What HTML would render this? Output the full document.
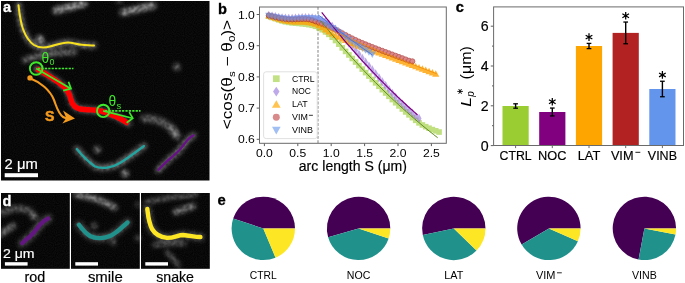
<!DOCTYPE html>
<html><head><meta charset="utf-8"><style>
html,body{margin:0;padding:0;background:#fff;}
body{width:685px;height:283px;overflow:hidden;}
svg{display:block;font-family:"Liberation Sans", sans-serif;will-change:transform;}
</style></head><body>
<svg width="685" height="283" viewBox="0 0 685 283">
<defs><filter id="nz" filterUnits="userSpaceOnUse" x="0" y="0" width="685" height="283"><feTurbulence type="fractalNoise" baseFrequency="0.9" numOctaves="1" seed="5"/><feColorMatrix type="matrix" values="0 0 0 0 1  0 0 0 0 1  0 0 0 0 1  0 0 0 0.09 -0.025"/><feComposite in2="SourceAlpha" operator="in"/></filter></defs>
<rect x="1" y="1" width="208.5" height="179.5" fill="#030303"/>
<rect x="1" y="1" width="208.5" height="179.5" fill="#000" filter="url(#nz)"/>
<defs><filter id="bl" filterUnits="userSpaceOnUse" x="0" y="0" width="685" height="283"><feGaussianBlur in="SourceGraphic" stdDeviation="2.0" result="b"/><feTurbulence type="fractalNoise" baseFrequency="0.3" numOctaves="1" seed="7" result="n"/><feColorMatrix in="n" type="matrix" values="0 0 0 0 1  0 0 0 0 1  0 0 0 0 1  0 0 0 0.9 0.3" result="n2"/><feComposite in="b" in2="n2" operator="in"/></filter><filter id="bl2" filterUnits="userSpaceOnUse" x="0" y="0" width="685" height="283"><feGaussianBlur stdDeviation="1.4"/></filter></defs>
<path d="M56,10.5 Q70,7 84,3.5" stroke="#fff" stroke-opacity="0.7" stroke-width="6.5" stroke-linecap="round" fill="none" filter="url(#bl)"/>
<path d="M123,12.5 Q138,9 153,5.5" stroke="#fff" stroke-opacity="0.65" stroke-width="6.5" stroke-linecap="round" fill="none" filter="url(#bl)"/>
<path d="M118,1.5 L121,1.5" stroke="#fff" stroke-opacity="0.5" stroke-width="3" stroke-linecap="round" fill="none" filter="url(#bl)"/>
<path d="M39.7,39.2 L40.2,39.7" stroke="#fff" stroke-opacity="0.8" stroke-width="7" stroke-linecap="round" fill="none" filter="url(#bl)"/>
<path d="M25,60 Q50,52 74,52" stroke="#fff" stroke-opacity="0.45" stroke-width="6" stroke-linecap="round" fill="none" filter="url(#bl)"/>
<path d="M176.6,66.8 L177,67" stroke="#fff" stroke-opacity="0.6" stroke-width="6" stroke-linecap="round" fill="none" filter="url(#bl)"/>
<path d="M144,118.5 Q166,118 177,136" stroke="#fff" stroke-opacity="0.42" stroke-width="7" stroke-linecap="round" fill="none" filter="url(#bl)"/>
<path d="M172,128 L176,135" stroke="#fff" stroke-opacity="0.3" stroke-width="6" stroke-linecap="round" fill="none" filter="url(#bl)"/>
<path d="M97,149.4 L97.5,149.8" stroke="#fff" stroke-opacity="0.6" stroke-width="6" stroke-linecap="round" fill="none" filter="url(#bl)"/>
<path d="M124,173 L125,173.5" stroke="#fff" stroke-opacity="0.5" stroke-width="6" stroke-linecap="round" fill="none" filter="url(#bl)"/>
<path d="M125.4,173.3 L126,174" stroke="#fff" stroke-opacity="0.5" stroke-width="5" stroke-linecap="round" fill="none" filter="url(#bl)"/>
<path d="M18.5,5.3 C19.5,14 20.5,22 23,29 C25.5,36 29,41.5 34,45 C38,47.5 44,48 50,46.5 C56,45 62,42.5 68,42.5 C73,42.5 76,44.5 82,44.8 C87,45 91,45.5 94,45.5" stroke="#fff" stroke-opacity="0.5" stroke-width="6" stroke-linecap="round" fill="none" filter="url(#bl)"/>
<path d="M36.5,68.7 C46,74 56,80 63,86 C68,90 70,95 71,100 C72.5,105 75,108 80,109 C86,110 92,109.8 97,110.2 C103,111 108,113 116,116.5 C121,119 126,122 128.5,123.5" stroke="#fff" stroke-opacity="0.5" stroke-width="6" stroke-linecap="round" fill="none" filter="url(#bl)"/>
<path d="M76.8,149 C80,153 86,160 95,166.5 C102,169 112,168 120,163 C128,158 136,152 144,146" stroke="#fff" stroke-opacity="0.5" stroke-width="6" stroke-linecap="round" fill="none" filter="url(#bl)"/>
<path d="M158.3,170 C163,165 168,160 172,157 C177,153 182,148 186.6,141 C189,138 191,136.5 193.6,135.3" stroke="#fff" stroke-opacity="0.5" stroke-width="6" stroke-linecap="round" fill="none" filter="url(#bl)"/>
<path d="M18.5,5.3 C19.5,14 20.5,22 23,29 C25.5,36 29,41.5 34,45 C38,47.5 44,48 50,46.5 C56,45 62,42.5 68,42.5 C73,42.5 76,44.5 82,44.8 C87,45 91,45.5 94,45.5" stroke="#f7e11e" stroke-width="2.0" fill="none" stroke-linecap="round"/>
<path d="M36.5,68.7 C46,74 56,80 63,86 C68,90 70,95 71,100 C72.5,105 75,108 80,109 C86,110 92,109.8 97,110.2 C103,111 108,113 116,116.5 C121,119 126,122 128.5,123.5" stroke="#ff0000" stroke-width="5.4" fill="none" stroke-linecap="butt"/>
<path d="M76.8,149 C80,153 86,160 95,166.5 C102,169 112,168 120,163 C128,158 136,152 144,146" stroke="#22a5a0" stroke-width="2.2" fill="none" stroke-linecap="round"/>
<path d="M158.3,170 C163,165 168,160 172,157 C177,153 182,148 186.6,141 C189,138 191,136.5 193.6,135.3" stroke="#6a0f8a" stroke-width="2.2" fill="none" stroke-linecap="round"/>
<circle cx="36.2" cy="68.5" r="6.3" stroke="#3ee82a" stroke-width="1.9" fill="none"/>
<line x1="38" y1="68.5" x2="73.5" y2="68.5" stroke="#3ee82a" stroke-width="1.7" stroke-dasharray="2.3,1.1"/>
<line x1="36.2" y1="68.5" x2="70.5" y2="88.5" stroke="#3ee82a" stroke-width="1.7"/>
<polyline points="68.5,81.8 71,88.6 63.2,90.6" stroke="#3ee82a" stroke-width="1.7" fill="none"/>
<circle cx="103.2" cy="110.9" r="6.2" stroke="#3ee82a" stroke-width="1.9" fill="none"/>
<line x1="105" y1="110.9" x2="140.5" y2="110.9" stroke="#3ee82a" stroke-width="1.7" stroke-dasharray="2.3,1.1"/>
<line x1="103.2" y1="110.9" x2="132.5" y2="118.2" stroke="#3ee82a" stroke-width="1.7"/>
<polyline points="129.2,112.1 132.8,118.3 126.6,122.7" stroke="#3ee82a" stroke-width="1.7" fill="none"/>
<text x="41.6" y="62.6" font-size="13.8" fill="#3ee82a">θ</text>
<text x="49.6" y="65.2" font-size="9" fill="#3ee82a">0</text>
<text x="108.4" y="106.1" font-size="13.8" fill="#3ee82a">θ</text>
<text x="116.4" y="108.8" font-size="9.5" fill="#3ee82a">s</text>
<circle cx="30" cy="77.9" r="2.7" fill="#f39a1f"/>
<path d="M30.5,78.5 C40,82 50,90 54,100 C57,108 58,113 63,117 C66,118.5 69,118.5 71,118.3" stroke="#f39a1f" stroke-width="2.1" fill="none"/>
<path d="M75,118.6 L63,110.6 L66.3,118 L62.4,123.4 Z" fill="#f39a1f"/>
<text x="45.00" y="120.80" font-size="14.2" text-anchor="start" font-weight="bold" fill="#f39a1f" stroke="#f39a1f" stroke-width="0.5">S</text>
<text x="3.00" y="11.80" font-size="14.6" text-anchor="start" font-weight="bold" fill="#fff" stroke="#fff" stroke-width="0.3">a</text>
<text x="4.60" y="168.60" font-size="14" text-anchor="start" font-weight="normal" fill="#fff" textLength="33.2" lengthAdjust="spacingAndGlyphs"  stroke="#fff" stroke-width="0.18">2 μm</text>
<rect x="4.7" y="173.2" width="33.3" height="4" fill="#fff"/>
<rect x="1" y="193" width="68.8" height="75.8" fill="#030303"/>
<rect x="1" y="193" width="68.8" height="75.8" fill="#000" filter="url(#nz)"/>
<rect x="71" y="193" width="68.8" height="75.8" fill="#030303"/>
<rect x="71" y="193" width="68.8" height="75.8" fill="#000" filter="url(#nz)"/>
<rect x="141" y="193" width="68.8" height="75.8" fill="#030303"/>
<rect x="141" y="193" width="68.8" height="75.8" fill="#000" filter="url(#nz)"/>
<path d="M2,213 Q17,205 30,211" stroke="#fff" stroke-opacity="0.4" stroke-width="6" stroke-linecap="round" fill="none" filter="url(#bl)"/>
<path d="M33.5,216 L34,216.5" stroke="#fff" stroke-opacity="0.7" stroke-width="6" stroke-linecap="round" fill="none" filter="url(#bl)"/>
<path d="M1.5,233.5 Q8,229 13,226" stroke="#fff" stroke-opacity="0.5" stroke-width="6" stroke-linecap="round" fill="none" filter="url(#bl)"/>
<path d="M76.7,194.4 Q97,197 114.4,207.4" stroke="#fff" stroke-opacity="0.6" stroke-width="6" stroke-linecap="round" fill="none" filter="url(#bl)"/>
<path d="M94.1,225.4 L94.5,225.8" stroke="#fff" stroke-opacity="0.55" stroke-width="5" stroke-linecap="round" fill="none" filter="url(#bl)"/>
<path d="M113,242.2 L113.4,242.6" stroke="#fff" stroke-opacity="0.5" stroke-width="5" stroke-linecap="round" fill="none" filter="url(#bl)"/>
<path d="M137.6,237.9 L138,238.2" stroke="#fff" stroke-opacity="0.4" stroke-width="5" stroke-linecap="round" fill="none" filter="url(#bl)"/>
<path d="M137.6,204.5 L138,205" stroke="#fff" stroke-opacity="0.3" stroke-width="5" stroke-linecap="round" fill="none" filter="url(#bl)"/>
<path d="M146.7,201.6 Q170,197 196,194.4" stroke="#fff" stroke-opacity="0.45" stroke-width="4" stroke-linecap="round" fill="none" filter="url(#bl)"/>
<path d="M175.7,211.8 Q185,209 193.1,206" stroke="#fff" stroke-opacity="0.55" stroke-width="6" stroke-linecap="round" fill="none" filter="url(#bl)"/>
<path d="M154,245 Q170,243 184.4,243.7" stroke="#fff" stroke-opacity="0.45" stroke-width="4" stroke-linecap="round" fill="none" filter="url(#bl)"/>
<path d="M167,252.4 Q173,258 178.6,265.4" stroke="#fff" stroke-opacity="0.45" stroke-width="4" stroke-linecap="round" fill="none" filter="url(#bl)"/>
<path d="M22.1,243.2 C25,240.5 28,238 30.5,236 C33,233.5 35,231.5 37,228.5 C39,225.5 41.5,223 44,221 C46,219.5 47.5,218.8 48.2,218.5" stroke="#fff" stroke-opacity="0.32" stroke-width="8" stroke-linecap="round" fill="none" filter="url(#bl)"/>
<path d="M79,224.8 C82,229 85,233 90,236 C95,238.5 103,239 110,236 C117,233 122,227 127.5,222.5" stroke="#fff" stroke-opacity="0.32" stroke-width="8" stroke-linecap="round" fill="none" filter="url(#bl)"/>
<path d="M147.3,208.9 C148,215 148.5,222 152,229 C155,234 160,237 167,237.9 C174,238 178,235 183,235 C190,235.5 195,237 200.4,237" stroke="#fff" stroke-opacity="0.32" stroke-width="8" stroke-linecap="round" fill="none" filter="url(#bl)"/>
<path d="M22.1,243.2 C25,240.5 28,238 30.5,236 C33,233.5 35,231.5 37,228.5 C39,225.5 41.5,223 44,221 C46,219.5 47.5,218.8 48.2,218.5" stroke="#62167f" stroke-width="4.2" stroke-linecap="round" fill="none"/>
<path d="M79,224.8 C82,229 85,233 90,236 C95,238.5 103,239 110,236 C117,233 122,227 127.5,222.5" stroke="#21918c" stroke-width="4.4" stroke-linecap="round" fill="none"/>
<path d="M147.3,208.9 C148,215 148.5,222 152,229 C155,234 160,237 167,237.9 C174,238 178,235 183,235 C190,235.5 195,237 200.4,237" stroke="#fde725" stroke-width="4.4" stroke-linecap="round" fill="none"/>
<text x="2.40" y="205.90" font-size="14.6" text-anchor="start" font-weight="bold" fill="#fff" stroke="#fff" stroke-width="0.3">d</text>
<text x="3.00" y="257.70" font-size="13.6" text-anchor="start" font-weight="normal" fill="#fff" textLength="31.6" lengthAdjust="spacingAndGlyphs"  stroke="#fff" stroke-width="0.18">2 μm</text>
<rect x="4.9" y="262.2" width="22.7" height="3.4" fill="#fff"/>
<rect x="75.3" y="262.2" width="22.7" height="3.4" fill="#fff"/>
<rect x="145.3" y="262.2" width="22.7" height="3.4" fill="#fff"/>
<text x="34.90" y="281.60" font-size="14.2" text-anchor="middle" font-weight="normal" fill="#000" textLength="20.8" lengthAdjust="spacingAndGlyphs"  stroke="#000" stroke-width="0.18">rod</text>
<text x="105.30" y="281.60" font-size="14.2" text-anchor="middle" font-weight="normal" fill="#000" textLength="34.8" lengthAdjust="spacingAndGlyphs"  stroke="#000" stroke-width="0.18">smile</text>
<text x="175.10" y="281.60" font-size="14.2" text-anchor="middle" font-weight="normal" fill="#000" textLength="37.8" lengthAdjust="spacingAndGlyphs"  stroke="#000" stroke-width="0.18">snake</text>
<text x="217.90" y="14.30" font-size="14.6" text-anchor="start" font-weight="bold" fill="#000" stroke="#000" stroke-width="0.3">b</text>
<line x1="256.7" y1="14.50" x2="259.5" y2="14.50" stroke="#333" stroke-width="0.8"/>
<text x="254.80" y="18.50" font-size="11.2" text-anchor="end" font-weight="normal" fill="#000" textLength="16.9" lengthAdjust="spacingAndGlyphs" >1.0</text>
<line x1="256.7" y1="45.70" x2="259.5" y2="45.70" stroke="#333" stroke-width="0.8"/>
<text x="254.80" y="49.70" font-size="11.2" text-anchor="end" font-weight="normal" fill="#000" textLength="16.9" lengthAdjust="spacingAndGlyphs" >0.9</text>
<line x1="256.7" y1="76.90" x2="259.5" y2="76.90" stroke="#333" stroke-width="0.8"/>
<text x="254.80" y="80.90" font-size="11.2" text-anchor="end" font-weight="normal" fill="#000" textLength="16.9" lengthAdjust="spacingAndGlyphs" >0.8</text>
<line x1="256.7" y1="108.10" x2="259.5" y2="108.10" stroke="#333" stroke-width="0.8"/>
<text x="254.80" y="112.10" font-size="11.2" text-anchor="end" font-weight="normal" fill="#000" textLength="16.9" lengthAdjust="spacingAndGlyphs" >0.7</text>
<line x1="256.7" y1="139.30" x2="259.5" y2="139.30" stroke="#333" stroke-width="0.8"/>
<text x="254.80" y="143.30" font-size="11.2" text-anchor="end" font-weight="normal" fill="#000" textLength="16.9" lengthAdjust="spacingAndGlyphs" >0.6</text>
<line x1="264.40" y1="143.3" x2="264.40" y2="146.10000000000002" stroke="#333" stroke-width="0.8"/>
<text x="264.40" y="156.60" font-size="11.2" text-anchor="middle" font-weight="normal" fill="#000" textLength="16.9" lengthAdjust="spacingAndGlyphs" >0.0</text>
<line x1="297.80" y1="143.3" x2="297.80" y2="146.10000000000002" stroke="#333" stroke-width="0.8"/>
<text x="297.80" y="156.60" font-size="11.2" text-anchor="middle" font-weight="normal" fill="#000" textLength="16.9" lengthAdjust="spacingAndGlyphs" >0.5</text>
<line x1="331.20" y1="143.3" x2="331.20" y2="146.10000000000002" stroke="#333" stroke-width="0.8"/>
<text x="331.20" y="156.60" font-size="11.2" text-anchor="middle" font-weight="normal" fill="#000" textLength="16.9" lengthAdjust="spacingAndGlyphs" >1.0</text>
<line x1="364.60" y1="143.3" x2="364.60" y2="146.10000000000002" stroke="#333" stroke-width="0.8"/>
<text x="364.60" y="156.60" font-size="11.2" text-anchor="middle" font-weight="normal" fill="#000" textLength="16.9" lengthAdjust="spacingAndGlyphs" >1.5</text>
<line x1="398.00" y1="143.3" x2="398.00" y2="146.10000000000002" stroke="#333" stroke-width="0.8"/>
<text x="398.00" y="156.60" font-size="11.2" text-anchor="middle" font-weight="normal" fill="#000" textLength="16.9" lengthAdjust="spacingAndGlyphs" >2.0</text>
<line x1="431.40" y1="143.3" x2="431.40" y2="146.10000000000002" stroke="#333" stroke-width="0.8"/>
<text x="431.40" y="156.60" font-size="11.2" text-anchor="middle" font-weight="normal" fill="#000" textLength="16.9" lengthAdjust="spacingAndGlyphs" >2.5</text>
<text x="352.90" y="170.60" font-size="13.8" text-anchor="middle" font-weight="normal" fill="#000" textLength="108.2" lengthAdjust="spacingAndGlyphs"  stroke="#000" stroke-width="0.18">arc length S (μm)</text>
<g transform="translate(232.3,74.6) rotate(-90)"><text x="0" y="0" font-size="14.2" text-anchor="middle" textLength="109.5" lengthAdjust="spacingAndGlyphs">&lt;cos(θ<tspan font-size="9.5" dy="2.8">s</tspan><tspan dy="-2.8"> − θ</tspan><tspan font-size="9.5" dy="2.8">0</tspan><tspan dy="-2.8">)&gt;</tspan></text></g>
<clipPath id="cb"><rect x="259.5" y="7.0" width="186.8" height="136.3"/></clipPath>
<g clip-path="url(#cb)">
<line x1="318" y1="7.0" x2="318" y2="143.3" stroke="#8c8c8c" stroke-width="1.1" stroke-dasharray="2.8,1.5"/>
<g opacity="0.62">
<rect x="265.94" y="13.44" width="5.6" height="5.6" fill="#9acd32" fill-opacity="1.0" />
<rect x="269.28" y="14.71" width="5.6" height="5.6" fill="#9acd32" fill-opacity="1.0" />
<rect x="272.62" y="15.87" width="5.6" height="5.6" fill="#9acd32" fill-opacity="1.0" />
<rect x="275.96" y="17.03" width="5.6" height="5.6" fill="#9acd32" fill-opacity="1.0" />
<rect x="279.30" y="18.11" width="5.6" height="5.6" fill="#9acd32" fill-opacity="1.0" />
<rect x="282.64" y="18.98" width="5.6" height="5.6" fill="#9acd32" fill-opacity="1.0" />
<rect x="285.98" y="19.59" width="5.6" height="5.6" fill="#9acd32" fill-opacity="1.0" />
<rect x="289.32" y="20.03" width="5.6" height="5.6" fill="#9acd32" fill-opacity="1.0" />
<rect x="292.66" y="20.36" width="5.6" height="5.6" fill="#9acd32" fill-opacity="1.0" />
<rect x="296.00" y="20.64" width="5.6" height="5.6" fill="#9acd32" fill-opacity="1.0" />
<rect x="299.34" y="20.95" width="5.6" height="5.6" fill="#9acd32" fill-opacity="1.0" />
<rect x="302.68" y="21.33" width="5.6" height="5.6" fill="#9acd32" fill-opacity="1.0" />
<rect x="306.02" y="21.85" width="5.6" height="5.6" fill="#9acd32" fill-opacity="1.0" />
<rect x="309.36" y="22.50" width="5.6" height="5.6" fill="#9acd32" fill-opacity="1.0" />
<rect x="312.70" y="23.48" width="5.6" height="5.6" fill="#9acd32" fill-opacity="1.0" />
<rect x="316.04" y="25.01" width="5.6" height="5.6" fill="#9acd32" fill-opacity="1.0" />
<rect x="319.38" y="26.92" width="5.6" height="5.6" fill="#9acd32" fill-opacity="1.0" />
<rect x="322.72" y="29.11" width="5.6" height="5.6" fill="#9acd32" fill-opacity="1.0" />
<rect x="326.06" y="31.60" width="5.6" height="5.6" fill="#9acd32" fill-opacity="1.0" />
<rect x="329.40" y="34.43" width="5.6" height="5.6" fill="#9acd32" fill-opacity="1.0" />
<rect x="332.74" y="37.73" width="5.6" height="5.6" fill="#9acd32" fill-opacity="1.0" />
<rect x="336.08" y="41.35" width="5.6" height="5.6" fill="#9acd32" fill-opacity="1.0" />
<rect x="339.42" y="45.06" width="5.6" height="5.6" fill="#9acd32" fill-opacity="1.0" />
<rect x="342.76" y="48.63" width="5.6" height="5.6" fill="#9acd32" fill-opacity="1.0" />
<rect x="346.10" y="52.16" width="5.6" height="5.6" fill="#9acd32" fill-opacity="1.0" />
<rect x="349.44" y="55.70" width="5.6" height="5.6" fill="#9acd32" fill-opacity="1.0" />
<rect x="352.78" y="59.24" width="5.6" height="5.6" fill="#9acd32" fill-opacity="1.0" />
<rect x="356.12" y="62.78" width="5.6" height="5.6" fill="#9acd32" fill-opacity="1.0" />
<rect x="359.46" y="66.30" width="5.6" height="5.6" fill="#9acd32" fill-opacity="1.0" />
<rect x="362.80" y="69.80" width="5.6" height="5.6" fill="#9acd32" fill-opacity="1.0" />
<rect x="366.14" y="73.26" width="5.6" height="5.6" fill="#9acd32" fill-opacity="1.0" />
<rect x="369.48" y="76.68" width="5.6" height="5.6" fill="#9acd32" fill-opacity="1.0" />
<rect x="372.82" y="80.09" width="5.6" height="5.6" fill="#9acd32" fill-opacity="1.0" />
<rect x="376.16" y="83.49" width="5.6" height="5.6" fill="#9acd32" fill-opacity="1.0" />
<rect x="379.50" y="86.87" width="5.6" height="5.6" fill="#9acd32" fill-opacity="1.0" />
<rect x="382.84" y="90.21" width="5.6" height="5.6" fill="#9acd32" fill-opacity="1.0" />
<rect x="386.18" y="93.52" width="5.6" height="5.6" fill="#9acd32" fill-opacity="1.0" />
<rect x="389.52" y="96.78" width="5.6" height="5.6" fill="#9acd32" fill-opacity="1.0" />
<rect x="392.86" y="99.98" width="5.6" height="5.6" fill="#9acd32" fill-opacity="1.0" />
<rect x="396.20" y="103.11" width="5.6" height="5.6" fill="#9acd32" fill-opacity="1.0" />
<rect x="399.54" y="106.18" width="5.6" height="5.6" fill="#9acd32" fill-opacity="1.0" />
<rect x="402.88" y="109.16" width="5.6" height="5.6" fill="#9acd32" fill-opacity="1.0" />
<rect x="406.22" y="112.06" width="5.6" height="5.6" fill="#9acd32" fill-opacity="1.0" />
<rect x="409.56" y="114.86" width="5.6" height="5.6" fill="#9acd32" fill-opacity="1.0" />
<rect x="412.90" y="117.54" width="5.6" height="5.6" fill="#9acd32" fill-opacity="1.0" />
<rect x="416.24" y="120.07" width="5.6" height="5.6" fill="#9acd32" fill-opacity="1.0" />
<rect x="419.58" y="122.15" width="5.6" height="5.6" fill="#9acd32" fill-opacity="1.0" />
<rect x="422.92" y="123.86" width="5.6" height="5.6" fill="#9acd32" fill-opacity="1.0" />
<rect x="426.26" y="125.41" width="5.6" height="5.6" fill="#9acd32" fill-opacity="1.0" />
<rect x="429.60" y="126.78" width="5.6" height="5.6" fill="#9acd32" fill-opacity="1.0" />
<rect x="432.94" y="128.02" width="5.6" height="5.6" fill="#9acd32" fill-opacity="1.0" />
<rect x="436.28" y="129.25" width="5.6" height="5.6" fill="#9acd32" fill-opacity="1.0" />
</g>
<g opacity="0.6">
<path d="M268.74,10.70 L271.24,15.30 L268.74,19.90 L266.24,15.30Z" fill="#9370db" fill-opacity="1.0" />
<path d="M272.08,11.38 L274.58,15.98 L272.08,20.58 L269.58,15.98Z" fill="#9370db" fill-opacity="1.0" />
<path d="M275.42,12.04 L277.92,16.64 L275.42,21.24 L272.92,16.64Z" fill="#9370db" fill-opacity="1.0" />
<path d="M278.76,12.66 L281.26,17.26 L278.76,21.86 L276.26,17.26Z" fill="#9370db" fill-opacity="1.0" />
<path d="M282.10,13.18 L284.60,17.78 L282.10,22.38 L279.60,17.78Z" fill="#9370db" fill-opacity="1.0" />
<path d="M285.44,13.56 L287.94,18.16 L285.44,22.76 L282.94,18.16Z" fill="#9370db" fill-opacity="1.0" />
<path d="M288.78,13.75 L291.28,18.35 L288.78,22.95 L286.28,18.35Z" fill="#9370db" fill-opacity="1.0" />
<path d="M292.12,13.72 L294.62,18.32 L292.12,22.92 L289.62,18.32Z" fill="#9370db" fill-opacity="1.0" />
<path d="M295.46,13.56 L297.96,18.16 L295.46,22.76 L292.96,18.16Z" fill="#9370db" fill-opacity="1.0" />
<path d="M298.80,13.33 L301.30,17.93 L298.80,22.53 L296.30,17.93Z" fill="#9370db" fill-opacity="1.0" />
<path d="M302.14,13.12 L304.64,17.72 L302.14,22.32 L299.64,17.72Z" fill="#9370db" fill-opacity="1.0" />
<path d="M305.48,13.00 L307.98,17.60 L305.48,22.20 L302.98,17.60Z" fill="#9370db" fill-opacity="1.0" />
<path d="M308.82,13.06 L311.32,17.66 L308.82,22.26 L306.32,17.66Z" fill="#9370db" fill-opacity="1.0" />
<path d="M312.16,13.33 L314.66,17.93 L312.16,22.53 L309.66,17.93Z" fill="#9370db" fill-opacity="1.0" />
<path d="M315.50,13.92 L318.00,18.52 L315.50,23.12 L313.00,18.52Z" fill="#9370db" fill-opacity="1.0" />
<path d="M318.84,14.91 L321.34,19.51 L318.84,24.11 L316.34,19.51Z" fill="#9370db" fill-opacity="1.0" />
<path d="M322.18,16.03 L324.68,20.63 L322.18,25.23 L319.68,20.63Z" fill="#9370db" fill-opacity="1.0" />
<path d="M325.52,17.37 L328.02,21.97 L325.52,26.57 L323.02,21.97Z" fill="#9370db" fill-opacity="1.0" />
<path d="M328.86,19.16 L331.36,23.76 L328.86,28.36 L326.36,23.76Z" fill="#9370db" fill-opacity="1.0" />
<path d="M332.20,21.63 L334.70,26.23 L332.20,30.83 L329.70,26.23Z" fill="#9370db" fill-opacity="1.0" />
<path d="M335.54,24.58 L338.04,29.18 L335.54,33.78 L333.04,29.18Z" fill="#9370db" fill-opacity="1.0" />
<path d="M338.88,27.83 L341.38,32.43 L338.88,37.03 L336.38,32.43Z" fill="#9370db" fill-opacity="1.0" />
<path d="M342.22,31.30 L344.72,35.90 L342.22,40.50 L339.72,35.90Z" fill="#9370db" fill-opacity="1.0" />
<path d="M345.56,34.90 L348.06,39.50 L345.56,44.10 L343.06,39.50Z" fill="#9370db" fill-opacity="1.0" />
<path d="M348.90,38.55 L351.40,43.15 L348.90,47.75 L346.40,43.15Z" fill="#9370db" fill-opacity="1.0" />
<path d="M352.24,42.19 L354.74,46.79 L352.24,51.39 L349.74,46.79Z" fill="#9370db" fill-opacity="1.0" />
<path d="M355.58,45.91 L358.08,50.51 L355.58,55.11 L353.08,50.51Z" fill="#9370db" fill-opacity="1.0" />
<path d="M358.92,49.74 L361.42,54.34 L358.92,58.94 L356.42,54.34Z" fill="#9370db" fill-opacity="1.0" />
<path d="M362.26,53.64 L364.76,58.24 L362.26,62.84 L359.76,58.24Z" fill="#9370db" fill-opacity="1.0" />
<path d="M365.60,57.56 L368.10,62.16 L365.60,66.76 L363.10,62.16Z" fill="#9370db" fill-opacity="1.0" />
<path d="M368.94,61.47 L371.44,66.07 L368.94,70.67 L366.44,66.07Z" fill="#9370db" fill-opacity="1.0" />
<path d="M372.28,65.35 L374.78,69.95 L372.28,74.55 L369.78,69.95Z" fill="#9370db" fill-opacity="1.0" />
<path d="M375.62,69.26 L378.12,73.86 L375.62,78.46 L373.12,73.86Z" fill="#9370db" fill-opacity="1.0" />
<path d="M378.96,73.21 L381.46,77.81 L378.96,82.41 L376.46,77.81Z" fill="#9370db" fill-opacity="1.0" />
<path d="M382.30,77.18 L384.80,81.78 L382.30,86.38 L379.80,81.78Z" fill="#9370db" fill-opacity="1.0" />
<path d="M385.64,81.12 L388.14,85.72 L385.64,90.32 L383.14,85.72Z" fill="#9370db" fill-opacity="1.0" />
<path d="M388.98,85.02 L391.48,89.62 L388.98,94.22 L386.48,89.62Z" fill="#9370db" fill-opacity="1.0" />
<path d="M392.32,88.85 L394.82,93.45 L392.32,98.05 L389.82,93.45Z" fill="#9370db" fill-opacity="1.0" />
<path d="M395.66,92.56 L398.16,97.16 L395.66,101.76 L393.16,97.16Z" fill="#9370db" fill-opacity="1.0" />
<path d="M399.00,96.13 L401.50,100.73 L399.00,105.33 L396.50,100.73Z" fill="#9370db" fill-opacity="1.0" />
<path d="M402.34,99.47 L404.84,104.07 L402.34,108.67 L399.84,104.07Z" fill="#9370db" fill-opacity="1.0" />
<path d="M405.68,102.62 L408.18,107.22 L405.68,111.82 L403.18,107.22Z" fill="#9370db" fill-opacity="1.0" />
<path d="M409.02,105.65 L411.52,110.25 L409.02,114.85 L406.52,110.25Z" fill="#9370db" fill-opacity="1.0" />
<path d="M412.36,108.64 L414.86,113.24 L412.36,117.84 L409.86,113.24Z" fill="#9370db" fill-opacity="1.0" />
<path d="M415.70,111.64 L418.20,116.24 L415.70,120.84 L413.20,116.24Z" fill="#9370db" fill-opacity="1.0" />
<path d="M419.04,113.80 L421.54,118.40 L419.04,123.00 L416.54,118.40Z" fill="#9370db" fill-opacity="1.0" />
</g>
<g opacity="0.8">
<path d="M268.74,12.17 L272.34,18.57 L265.14,18.57Z" fill="#ffa000" fill-opacity="1.0" />
<path d="M272.08,13.29 L275.68,19.69 L268.48,19.69Z" fill="#ffa000" fill-opacity="1.0" />
<path d="M275.42,14.40 L279.02,20.80 L271.82,20.80Z" fill="#ffa000" fill-opacity="1.0" />
<path d="M278.76,15.45 L282.36,21.85 L275.16,21.85Z" fill="#ffa000" fill-opacity="1.0" />
<path d="M282.10,16.39 L285.70,22.79 L278.50,22.79Z" fill="#ffa000" fill-opacity="1.0" />
<path d="M285.44,17.16 L289.04,23.56 L281.84,23.56Z" fill="#ffa000" fill-opacity="1.0" />
<path d="M288.78,17.70 L292.38,24.10 L285.18,24.10Z" fill="#ffa000" fill-opacity="1.0" />
<path d="M292.12,17.98 L295.72,24.38 L288.52,24.38Z" fill="#ffa000" fill-opacity="1.0" />
<path d="M295.46,18.09 L299.06,24.49 L291.86,24.49Z" fill="#ffa000" fill-opacity="1.0" />
<path d="M298.80,18.13 L302.40,24.53 L295.20,24.53Z" fill="#ffa000" fill-opacity="1.0" />
<path d="M302.14,18.19 L305.74,24.59 L298.54,24.59Z" fill="#ffa000" fill-opacity="1.0" />
<path d="M305.48,18.36 L309.08,24.76 L301.88,24.76Z" fill="#ffa000" fill-opacity="1.0" />
<path d="M308.82,18.74 L312.42,25.14 L305.22,25.14Z" fill="#ffa000" fill-opacity="1.0" />
<path d="M312.16,19.41 L315.76,25.81 L308.56,25.81Z" fill="#ffa000" fill-opacity="1.0" />
<path d="M315.50,20.43 L319.10,26.83 L311.90,26.83Z" fill="#ffa000" fill-opacity="1.0" />
<path d="M318.84,21.90 L322.44,28.30 L315.24,28.30Z" fill="#ffa000" fill-opacity="1.0" />
<path d="M322.18,23.86 L325.78,30.26 L318.58,30.26Z" fill="#ffa000" fill-opacity="1.0" />
<path d="M325.52,26.05 L329.12,32.45 L321.92,32.45Z" fill="#ffa000" fill-opacity="1.0" />
<path d="M328.86,28.20 L332.46,34.60 L325.26,34.60Z" fill="#ffa000" fill-opacity="1.0" />
<path d="M332.20,30.03 L335.80,36.43 L328.60,36.43Z" fill="#ffa000" fill-opacity="1.0" />
<path d="M335.54,31.72 L339.14,38.12 L331.94,38.12Z" fill="#ffa000" fill-opacity="1.0" />
<path d="M338.88,33.37 L342.48,39.77 L335.28,39.77Z" fill="#ffa000" fill-opacity="1.0" />
<path d="M342.22,34.99 L345.82,41.39 L338.62,41.39Z" fill="#ffa000" fill-opacity="1.0" />
<path d="M345.56,36.56 L349.16,42.96 L341.96,42.96Z" fill="#ffa000" fill-opacity="1.0" />
<path d="M348.90,38.09 L352.50,44.49 L345.30,44.49Z" fill="#ffa000" fill-opacity="1.0" />
<path d="M352.24,39.58 L355.84,45.98 L348.64,45.98Z" fill="#ffa000" fill-opacity="1.0" />
<path d="M355.58,41.02 L359.18,47.42 L351.98,47.42Z" fill="#ffa000" fill-opacity="1.0" />
<path d="M358.92,42.41 L362.52,48.81 L355.32,48.81Z" fill="#ffa000" fill-opacity="1.0" />
<path d="M362.26,43.66 L365.86,50.06 L358.66,50.06Z" fill="#ffa000" fill-opacity="1.0" />
<path d="M365.60,44.81 L369.20,51.21 L362.00,51.21Z" fill="#ffa000" fill-opacity="1.0" />
<path d="M368.94,45.89 L372.54,52.29 L365.34,52.29Z" fill="#ffa000" fill-opacity="1.0" />
<path d="M372.28,46.95 L375.88,53.35 L368.68,53.35Z" fill="#ffa000" fill-opacity="1.0" />
<path d="M375.62,48.05 L379.22,54.45 L372.02,54.45Z" fill="#ffa000" fill-opacity="1.0" />
<path d="M378.96,49.22 L382.56,55.62 L375.36,55.62Z" fill="#ffa000" fill-opacity="1.0" />
<path d="M382.30,50.43 L385.90,56.83 L378.70,56.83Z" fill="#ffa000" fill-opacity="1.0" />
<path d="M385.64,51.66 L389.24,58.06 L382.04,58.06Z" fill="#ffa000" fill-opacity="1.0" />
<path d="M388.98,52.89 L392.58,59.29 L385.38,59.29Z" fill="#ffa000" fill-opacity="1.0" />
<path d="M392.32,54.12 L395.92,60.52 L388.72,60.52Z" fill="#ffa000" fill-opacity="1.0" />
<path d="M395.66,55.36 L399.26,61.76 L392.06,61.76Z" fill="#ffa000" fill-opacity="1.0" />
<path d="M399.00,56.61 L402.60,63.01 L395.40,63.01Z" fill="#ffa000" fill-opacity="1.0" />
<path d="M402.34,57.86 L405.94,64.26 L398.74,64.26Z" fill="#ffa000" fill-opacity="1.0" />
<path d="M405.68,59.10 L409.28,65.50 L402.08,65.50Z" fill="#ffa000" fill-opacity="1.0" />
<path d="M409.02,60.35 L412.62,66.75 L405.42,66.75Z" fill="#ffa000" fill-opacity="1.0" />
<path d="M412.36,61.59 L415.96,67.99 L408.76,67.99Z" fill="#ffa000" fill-opacity="1.0" />
<path d="M415.70,62.83 L419.30,69.23 L412.10,69.23Z" fill="#ffa000" fill-opacity="1.0" />
<path d="M419.04,64.08 L422.64,70.48 L415.44,70.48Z" fill="#ffa000" fill-opacity="1.0" />
<path d="M422.38,65.33 L425.98,71.73 L418.78,71.73Z" fill="#ffa000" fill-opacity="1.0" />
<path d="M425.72,66.58 L429.32,72.98 L422.12,72.98Z" fill="#ffa000" fill-opacity="1.0" />
<path d="M429.06,67.83 L432.66,74.23 L425.46,74.23Z" fill="#ffa000" fill-opacity="1.0" />
<path d="M432.40,69.08 L436.00,75.48 L428.80,75.48Z" fill="#ffa000" fill-opacity="1.0" />
<path d="M435.74,70.33 L439.34,76.73 L432.14,76.73Z" fill="#ffa000" fill-opacity="1.0" />
</g>
<g opacity="0.75">
<circle cx="268.74" cy="15.49" r="2.5" fill="#d06060" fill-opacity="1.0" stroke="#a52a2a" stroke-width="0.9"/>
<circle cx="272.08" cy="16.31" r="2.5" fill="#d06060" fill-opacity="1.0" stroke="#a52a2a" stroke-width="0.9"/>
<circle cx="275.42" cy="17.13" r="2.5" fill="#d06060" fill-opacity="1.0" stroke="#a52a2a" stroke-width="0.9"/>
<circle cx="278.76" cy="17.89" r="2.5" fill="#d06060" fill-opacity="1.0" stroke="#a52a2a" stroke-width="0.9"/>
<circle cx="282.10" cy="18.55" r="2.5" fill="#d06060" fill-opacity="1.0" stroke="#a52a2a" stroke-width="0.9"/>
<circle cx="285.44" cy="19.06" r="2.5" fill="#d06060" fill-opacity="1.0" stroke="#a52a2a" stroke-width="0.9"/>
<circle cx="288.78" cy="19.36" r="2.5" fill="#d06060" fill-opacity="1.0" stroke="#a52a2a" stroke-width="0.9"/>
<circle cx="292.12" cy="19.40" r="2.5" fill="#d06060" fill-opacity="1.0" stroke="#a52a2a" stroke-width="0.9"/>
<circle cx="295.46" cy="19.29" r="2.5" fill="#d06060" fill-opacity="1.0" stroke="#a52a2a" stroke-width="0.9"/>
<circle cx="298.80" cy="19.12" r="2.5" fill="#d06060" fill-opacity="1.0" stroke="#a52a2a" stroke-width="0.9"/>
<circle cx="302.14" cy="19.00" r="2.5" fill="#d06060" fill-opacity="1.0" stroke="#a52a2a" stroke-width="0.9"/>
<circle cx="305.48" cy="19.02" r="2.5" fill="#d06060" fill-opacity="1.0" stroke="#a52a2a" stroke-width="0.9"/>
<circle cx="308.82" cy="19.32" r="2.5" fill="#d06060" fill-opacity="1.0" stroke="#a52a2a" stroke-width="0.9"/>
<circle cx="312.16" cy="20.18" r="2.5" fill="#d06060" fill-opacity="1.0" stroke="#a52a2a" stroke-width="0.9"/>
<circle cx="315.50" cy="21.42" r="2.5" fill="#d06060" fill-opacity="1.0" stroke="#a52a2a" stroke-width="0.9"/>
<circle cx="318.84" cy="22.66" r="2.5" fill="#d06060" fill-opacity="1.0" stroke="#a52a2a" stroke-width="0.9"/>
<circle cx="322.18" cy="23.88" r="2.5" fill="#d06060" fill-opacity="1.0" stroke="#a52a2a" stroke-width="0.9"/>
<circle cx="325.52" cy="25.17" r="2.5" fill="#d06060" fill-opacity="1.0" stroke="#a52a2a" stroke-width="0.9"/>
<circle cx="328.86" cy="26.55" r="2.5" fill="#d06060" fill-opacity="1.0" stroke="#a52a2a" stroke-width="0.9"/>
<circle cx="332.20" cy="28.08" r="2.5" fill="#d06060" fill-opacity="1.0" stroke="#a52a2a" stroke-width="0.9"/>
<circle cx="335.54" cy="29.71" r="2.5" fill="#d06060" fill-opacity="1.0" stroke="#a52a2a" stroke-width="0.9"/>
<circle cx="338.88" cy="31.42" r="2.5" fill="#d06060" fill-opacity="1.0" stroke="#a52a2a" stroke-width="0.9"/>
<circle cx="342.22" cy="33.17" r="2.5" fill="#d06060" fill-opacity="1.0" stroke="#a52a2a" stroke-width="0.9"/>
<circle cx="345.56" cy="34.94" r="2.5" fill="#d06060" fill-opacity="1.0" stroke="#a52a2a" stroke-width="0.9"/>
<circle cx="348.90" cy="36.68" r="2.5" fill="#d06060" fill-opacity="1.0" stroke="#a52a2a" stroke-width="0.9"/>
<circle cx="352.24" cy="38.38" r="2.5" fill="#d06060" fill-opacity="1.0" stroke="#a52a2a" stroke-width="0.9"/>
<circle cx="355.58" cy="40.01" r="2.5" fill="#d06060" fill-opacity="1.0" stroke="#a52a2a" stroke-width="0.9"/>
<circle cx="358.92" cy="41.52" r="2.5" fill="#d06060" fill-opacity="1.0" stroke="#a52a2a" stroke-width="0.9"/>
<circle cx="362.26" cy="42.94" r="2.5" fill="#d06060" fill-opacity="1.0" stroke="#a52a2a" stroke-width="0.9"/>
<circle cx="365.60" cy="44.31" r="2.5" fill="#d06060" fill-opacity="1.0" stroke="#a52a2a" stroke-width="0.9"/>
<circle cx="368.94" cy="45.65" r="2.5" fill="#d06060" fill-opacity="1.0" stroke="#a52a2a" stroke-width="0.9"/>
<circle cx="372.28" cy="46.97" r="2.5" fill="#d06060" fill-opacity="1.0" stroke="#a52a2a" stroke-width="0.9"/>
<circle cx="375.62" cy="48.26" r="2.5" fill="#d06060" fill-opacity="1.0" stroke="#a52a2a" stroke-width="0.9"/>
<circle cx="378.96" cy="49.53" r="2.5" fill="#d06060" fill-opacity="1.0" stroke="#a52a2a" stroke-width="0.9"/>
<circle cx="382.30" cy="50.78" r="2.5" fill="#d06060" fill-opacity="1.0" stroke="#a52a2a" stroke-width="0.9"/>
<circle cx="385.64" cy="52.02" r="2.5" fill="#d06060" fill-opacity="1.0" stroke="#a52a2a" stroke-width="0.9"/>
<circle cx="388.98" cy="53.26" r="2.5" fill="#d06060" fill-opacity="1.0" stroke="#a52a2a" stroke-width="0.9"/>
<circle cx="392.32" cy="54.48" r="2.5" fill="#d06060" fill-opacity="1.0" stroke="#a52a2a" stroke-width="0.9"/>
<circle cx="395.66" cy="55.71" r="2.5" fill="#d06060" fill-opacity="1.0" stroke="#a52a2a" stroke-width="0.9"/>
<circle cx="399.00" cy="56.93" r="2.5" fill="#d06060" fill-opacity="1.0" stroke="#a52a2a" stroke-width="0.9"/>
<circle cx="402.34" cy="58.17" r="2.5" fill="#d06060" fill-opacity="1.0" stroke="#a52a2a" stroke-width="0.9"/>
<circle cx="405.68" cy="59.41" r="2.5" fill="#d06060" fill-opacity="1.0" stroke="#a52a2a" stroke-width="0.9"/>
<circle cx="409.02" cy="60.67" r="2.5" fill="#d06060" fill-opacity="1.0" stroke="#a52a2a" stroke-width="0.9"/>
<circle cx="412.36" cy="61.30" r="2.5" fill="#d06060" fill-opacity="1.0" stroke="#a52a2a" stroke-width="0.9"/>
</g>
<g opacity="0.62">
<path d="M268.74,19.08 L272.34,12.68 L265.14,12.68Z" fill="#6495ed" fill-opacity="1.0" />
<path d="M272.08,19.81 L275.68,13.41 L268.48,13.41Z" fill="#6495ed" fill-opacity="1.0" />
<path d="M275.42,20.54 L279.02,14.14 L271.82,14.14Z" fill="#6495ed" fill-opacity="1.0" />
<path d="M278.76,21.21 L282.36,14.81 L275.16,14.81Z" fill="#6495ed" fill-opacity="1.0" />
<path d="M282.10,21.77 L285.70,15.37 L278.50,15.37Z" fill="#6495ed" fill-opacity="1.0" />
<path d="M285.44,22.17 L289.04,15.77 L281.84,15.77Z" fill="#6495ed" fill-opacity="1.0" />
<path d="M288.78,22.36 L292.38,15.96 L285.18,15.96Z" fill="#6495ed" fill-opacity="1.0" />
<path d="M292.12,22.30 L295.72,15.90 L288.52,15.90Z" fill="#6495ed" fill-opacity="1.0" />
<path d="M295.46,22.09 L299.06,15.69 L291.86,15.69Z" fill="#6495ed" fill-opacity="1.0" />
<path d="M298.80,21.81 L302.40,15.41 L295.20,15.41Z" fill="#6495ed" fill-opacity="1.0" />
<path d="M302.14,21.53 L305.74,15.13 L298.54,15.13Z" fill="#6495ed" fill-opacity="1.0" />
<path d="M305.48,21.35 L309.08,14.95 L301.88,14.95Z" fill="#6495ed" fill-opacity="1.0" />
<path d="M308.82,21.33 L312.42,14.93 L305.22,14.93Z" fill="#6495ed" fill-opacity="1.0" />
<path d="M312.16,21.41 L315.76,15.01 L308.56,15.01Z" fill="#6495ed" fill-opacity="1.0" />
<path d="M315.50,21.85 L319.10,15.45 L311.90,15.45Z" fill="#6495ed" fill-opacity="1.0" />
<path d="M318.84,23.00 L322.44,16.60 L315.24,16.60Z" fill="#6495ed" fill-opacity="1.0" />
<path d="M322.18,24.74 L325.78,18.34 L318.58,18.34Z" fill="#6495ed" fill-opacity="1.0" />
<path d="M325.52,26.84 L329.12,20.44 L321.92,20.44Z" fill="#6495ed" fill-opacity="1.0" />
<path d="M328.86,29.10 L332.46,22.70 L325.26,22.70Z" fill="#6495ed" fill-opacity="1.0" />
<path d="M332.20,31.35 L335.80,24.95 L328.60,24.95Z" fill="#6495ed" fill-opacity="1.0" />
<path d="M335.54,33.65 L339.14,27.25 L331.94,27.25Z" fill="#6495ed" fill-opacity="1.0" />
<path d="M338.88,36.02 L342.48,29.62 L335.28,29.62Z" fill="#6495ed" fill-opacity="1.0" />
<path d="M342.22,38.42 L345.82,32.02 L338.62,32.02Z" fill="#6495ed" fill-opacity="1.0" />
<path d="M345.56,40.81 L349.16,34.41 L341.96,34.41Z" fill="#6495ed" fill-opacity="1.0" />
<path d="M348.90,43.14 L352.50,36.74 L345.30,36.74Z" fill="#6495ed" fill-opacity="1.0" />
<path d="M352.24,45.38 L355.84,38.98 L348.64,38.98Z" fill="#6495ed" fill-opacity="1.0" />
<path d="M355.58,47.54 L359.18,41.14 L351.98,41.14Z" fill="#6495ed" fill-opacity="1.0" />
<path d="M358.92,49.65 L362.52,43.25 L355.32,43.25Z" fill="#6495ed" fill-opacity="1.0" />
<path d="M362.26,51.73 L365.86,45.33 L358.66,45.33Z" fill="#6495ed" fill-opacity="1.0" />
<path d="M365.60,53.79 L369.20,47.39 L362.00,47.39Z" fill="#6495ed" fill-opacity="1.0" />
<path d="M368.94,55.85 L372.54,49.45 L365.34,49.45Z" fill="#6495ed" fill-opacity="1.0" />
<path d="M372.28,57.93 L375.88,51.53 L368.68,51.53Z" fill="#6495ed" fill-opacity="1.0" />
</g>
<path d="M320.71,20.74 L324.61,25.62 L328.51,30.42 L332.41,35.14 L336.31,39.79 L340.21,44.36 L344.11,48.86 L348.00,53.29 L351.90,57.65 L355.80,61.94 L359.70,66.16 L363.60,70.31 L367.50,74.40 L371.40,78.42 L375.30,82.38 L379.20,86.27 L383.09,90.10 L386.99,93.87 L390.89,97.58 L394.79,101.23 L398.69,104.83 L402.59,108.36 L406.49,111.84 L410.39,115.27 L414.29,118.64 L418.18,121.95 L422.08,125.22 L425.98,128.43 L429.88,131.59 L433.78,134.69 L437.68,137.75" stroke="#5f8a1e" stroke-width="1.0" fill="none"/>
<path d="M321.71,12.32 L324.91,16.43 L328.10,20.49 L331.30,24.50 L334.50,28.46 L337.69,32.36 L340.89,36.22 L344.08,40.02 L347.28,43.77 L350.47,47.48 L353.67,51.13 L356.86,54.74 L360.06,58.30 L363.25,61.82 L366.45,65.28 L369.64,68.71 L372.84,72.08 L376.03,75.42 L379.23,78.71 L382.42,81.95 L385.62,85.16 L388.81,88.32 L392.01,91.44 L395.21,94.52 L398.40,97.56 L401.60,100.56 L404.79,103.52 L407.99,106.44 L411.18,109.32 L414.38,112.17 L417.57,114.97" stroke="#800080" stroke-width="1.2" fill="none"/>
<path d="M317.84,24.48 L321.80,26.27 L325.77,28.05 L329.73,29.81 L333.69,31.57 L337.66,33.31 L341.62,35.05 L345.58,36.77 L349.55,38.48 L353.51,40.19 L357.47,41.88 L361.44,43.57 L365.40,45.24 L369.37,46.90 L373.33,48.56 L377.29,50.20 L381.26,51.84 L385.22,53.46 L389.18,55.08 L393.15,56.68 L397.11,58.28 L401.07,59.87 L405.04,61.44 L409.00,63.01 L412.96,64.57 L416.93,66.12 L420.89,67.66 L424.85,69.19 L428.82,70.71 L432.78,72.23 L436.74,73.73" stroke="#f08c00" stroke-width="0.8" fill="none"/>
<path d="M317.84,22.30 L320.94,23.54 L324.03,24.77 L327.13,26.00 L330.22,27.22 L333.32,28.44 L336.41,29.65 L339.51,30.86 L342.60,32.06 L345.70,33.26 L348.79,34.45 L351.89,35.64 L354.98,36.83 L358.08,38.00 L361.17,39.18 L364.27,40.35 L367.36,41.51 L370.46,42.67 L373.55,43.83 L376.65,44.98 L379.74,46.12 L382.84,47.26 L385.93,48.40 L389.03,49.53 L392.12,50.66 L395.22,51.78 L398.31,52.90 L401.41,54.01 L404.50,55.12 L407.60,56.22 L410.69,57.32" stroke="#c05050" stroke-width="0.0" fill="none"/>
<path d="M317.84,14.50 L319.67,15.95 L321.49,17.39 L323.32,18.82 L325.14,20.25 L326.97,21.67 L328.80,23.08 L330.62,24.49 L332.45,25.89 L334.27,27.28 L336.10,28.67 L337.92,30.05 L339.75,31.42 L341.58,32.79 L343.40,34.15 L345.23,35.51 L347.05,36.85 L348.88,38.20 L350.71,39.53 L352.53,40.86 L354.36,42.19 L356.18,43.51 L358.01,44.82 L359.83,46.12 L361.66,47.42 L363.49,48.72 L365.31,50.01 L367.14,51.29 L368.96,52.56 L370.79,53.83 L372.62,55.10" stroke="#4a74d8" stroke-width="1.0" fill="none"/>
</g>
<rect x="263.6" y="71.8" width="53.6" height="66.8" rx="2.5" fill="#fff" fill-opacity="0.8" stroke="#dcdcdc" stroke-width="0.9"/>
<g transform="translate(276.3,78.7) scale(1.2) translate(-276.3,-78.7)"><rect x="273.50" y="75.90" width="5.6" height="5.6" fill="#c2e184" fill-opacity="1.0" /></g>
<text x="292.10" y="81.50" font-size="9.7" text-anchor="start" font-weight="normal" fill="#000" textLength="22.6" lengthAdjust="spacingAndGlyphs" >CTRL</text>
<g transform="translate(276.3,91.6) scale(1.2) translate(-276.3,-91.6)"><path d="M276.3,87.60 L279.0,91.60 L276.3,95.60 L273.6,91.60Z" fill="#bea9ea"/></g>
<text x="292.10" y="94.40" font-size="9.7" text-anchor="start" font-weight="normal" fill="#000" textLength="18.8" lengthAdjust="spacingAndGlyphs" >NOC</text>
<g transform="translate(276.3,104.6) scale(1.2) translate(-276.3,-104.6)"><path d="M276.30,100.90 L279.90,107.30 L272.70,107.30Z" fill="#ffc34f" fill-opacity="1.0" /></g>
<text x="292.10" y="107.40" font-size="9.7" text-anchor="start" font-weight="normal" fill="#000" textLength="15.6" lengthAdjust="spacingAndGlyphs" >LAT</text>
<g transform="translate(276.3,117.3) scale(1.2) translate(-276.3,-117.3)"><circle cx="276.3" cy="117.3" r="2.9" fill="#d98a8a"/></g>
<text x="292.10" y="120.10" font-size="9.7" text-anchor="start" font-weight="normal" fill="#000" textLength="15.8" lengthAdjust="spacingAndGlyphs" >VIM</text>
<line x1="308.9" y1="115.30" x2="312.9" y2="115.30" stroke="#111" stroke-width="0.85"/>
<g transform="translate(276.3,130.0) scale(1.2) translate(-276.3,-130.0)"><path d="M276.30,133.70 L279.90,127.30 L272.70,127.30Z" fill="#a2bff4" fill-opacity="1.0" /></g>
<text x="292.10" y="132.80" font-size="9.7" text-anchor="start" font-weight="normal" fill="#000" textLength="21.0" lengthAdjust="spacingAndGlyphs" >VINB</text>
<rect x="259.5" y="7.0" width="186.80" height="136.30" fill="none" stroke="#6a6a6a" stroke-width="1.0"/>
<text x="455.80" y="12.00" font-size="14.6" text-anchor="start" font-weight="bold" fill="#000" stroke="#000" stroke-width="0.3">c</text>
<rect x="502.50" y="106.00" width="26.2" height="39.50" fill="#9acd32"/>
<rect x="539.20" y="112.00" width="26.2" height="33.50" fill="#800080"/>
<rect x="575.90" y="46.00" width="26.2" height="99.50" fill="#ffa500"/>
<rect x="612.60" y="32.90" width="26.2" height="112.60" fill="#b22222"/>
<rect x="649.30" y="89.00" width="26.2" height="56.50" fill="#6495ed"/>
<line x1="515.60" y1="103.80" x2="515.60" y2="108.20" stroke="#000" stroke-width="1.4"/>
<line x1="513.25" y1="103.80" x2="517.95" y2="103.80" stroke="#000" stroke-width="1.3"/>
<line x1="513.25" y1="108.20" x2="517.95" y2="108.20" stroke="#000" stroke-width="1.3"/>
<line x1="515.60" y1="145.5" x2="515.60" y2="148.1" stroke="#444" stroke-width="0.8"/>
<text x="515.60" y="160.10" font-size="13.4" text-anchor="middle" font-weight="normal" fill="#000" textLength="32.2" lengthAdjust="spacingAndGlyphs"  stroke="#000" stroke-width="0.18">CTRL</text>
<line x1="552.30" y1="108.05" x2="552.30" y2="115.95" stroke="#000" stroke-width="1.4"/>
<line x1="549.95" y1="108.05" x2="554.65" y2="108.05" stroke="#000" stroke-width="1.3"/>
<line x1="549.95" y1="115.95" x2="554.65" y2="115.95" stroke="#000" stroke-width="1.3"/>
<path d="M552.30,97.90 V105.60 M548.97,99.83 L555.63,103.67 M548.97,103.67 L555.63,99.83" stroke="#000" stroke-width="1.25" fill="none"/>
<circle cx="552.30" cy="101.75" r="1.1" fill="#000"/>
<line x1="552.30" y1="145.5" x2="552.30" y2="148.1" stroke="#444" stroke-width="0.8"/>
<text x="552.30" y="160.10" font-size="13.4" text-anchor="middle" font-weight="normal" fill="#000" textLength="28.4" lengthAdjust="spacingAndGlyphs"  stroke="#000" stroke-width="0.18">NOC</text>
<line x1="589.00" y1="43.40" x2="589.00" y2="48.60" stroke="#000" stroke-width="1.4"/>
<line x1="586.65" y1="43.40" x2="591.35" y2="43.40" stroke="#000" stroke-width="1.3"/>
<line x1="586.65" y1="48.60" x2="591.35" y2="48.60" stroke="#000" stroke-width="1.3"/>
<path d="M589.00,33.25 V40.95 M585.67,35.18 L592.33,39.02 M585.67,39.02 L592.33,35.18" stroke="#000" stroke-width="1.25" fill="none"/>
<circle cx="589.00" cy="37.10" r="1.1" fill="#000"/>
<line x1="589.00" y1="145.5" x2="589.00" y2="148.1" stroke="#444" stroke-width="0.8"/>
<text x="589.00" y="160.10" font-size="13.4" text-anchor="middle" font-weight="normal" fill="#000" textLength="22.6" lengthAdjust="spacingAndGlyphs"  stroke="#000" stroke-width="0.18">LAT</text>
<line x1="625.70" y1="22.05" x2="625.70" y2="43.75" stroke="#000" stroke-width="1.4"/>
<line x1="623.35" y1="22.05" x2="628.05" y2="22.05" stroke="#000" stroke-width="1.3"/>
<line x1="623.35" y1="43.75" x2="628.05" y2="43.75" stroke="#000" stroke-width="1.3"/>
<path d="M625.70,11.90 V19.60 M622.37,13.82 L629.03,17.67 M622.37,17.67 L629.03,13.82" stroke="#000" stroke-width="1.25" fill="none"/>
<circle cx="625.70" cy="15.75" r="1.1" fill="#000"/>
<line x1="625.70" y1="145.5" x2="625.70" y2="148.1" stroke="#444" stroke-width="0.8"/>
<text x="610.90" y="160.10" font-size="13.4" text-anchor="start" font-weight="normal" fill="#000" textLength="22.6" lengthAdjust="spacingAndGlyphs"  stroke="#000" stroke-width="0.18">VIM</text>
<line x1="635.4" y1="152.3" x2="640.3" y2="152.3" stroke="#000" stroke-width="0.9"/>
<line x1="662.40" y1="81.25" x2="662.40" y2="96.75" stroke="#000" stroke-width="1.4"/>
<line x1="660.05" y1="81.25" x2="664.75" y2="81.25" stroke="#000" stroke-width="1.3"/>
<line x1="660.05" y1="96.75" x2="664.75" y2="96.75" stroke="#000" stroke-width="1.3"/>
<path d="M662.40,71.10 V78.80 M659.07,73.03 L665.73,76.88 M659.07,76.88 L665.73,73.03" stroke="#000" stroke-width="1.25" fill="none"/>
<circle cx="662.40" cy="74.95" r="1.1" fill="#000"/>
<line x1="662.40" y1="145.5" x2="662.40" y2="148.1" stroke="#444" stroke-width="0.8"/>
<text x="662.40" y="160.10" font-size="13.4" text-anchor="middle" font-weight="normal" fill="#000" textLength="29.2" lengthAdjust="spacingAndGlyphs"  stroke="#000" stroke-width="0.18">VINB</text>
<line x1="490.8" y1="145.60" x2="493.6" y2="145.60" stroke="#333" stroke-width="0.8"/>
<text x="488.60" y="150.50" font-size="14.2" text-anchor="end" font-weight="normal" fill="#000"  stroke="#000" stroke-width="0.18">0</text>
<line x1="492.0" y1="125.70" x2="493.6" y2="125.70" stroke="#333" stroke-width="0.8"/>
<line x1="490.8" y1="105.80" x2="493.6" y2="105.80" stroke="#333" stroke-width="0.8"/>
<text x="488.60" y="110.70" font-size="14.2" text-anchor="end" font-weight="normal" fill="#000"  stroke="#000" stroke-width="0.18">2</text>
<line x1="492.0" y1="85.90" x2="493.6" y2="85.90" stroke="#333" stroke-width="0.8"/>
<line x1="490.8" y1="66.00" x2="493.6" y2="66.00" stroke="#333" stroke-width="0.8"/>
<text x="488.60" y="70.90" font-size="14.2" text-anchor="end" font-weight="normal" fill="#000"  stroke="#000" stroke-width="0.18">4</text>
<line x1="492.0" y1="46.10" x2="493.6" y2="46.10" stroke="#333" stroke-width="0.8"/>
<line x1="490.8" y1="26.20" x2="493.6" y2="26.20" stroke="#333" stroke-width="0.8"/>
<text x="488.60" y="31.10" font-size="14.2" text-anchor="end" font-weight="normal" fill="#000"  stroke="#000" stroke-width="0.18">6</text>
<g transform="translate(470.6,107) rotate(-90)"><text x="0.2" y="0" font-size="14.5" font-style="italic" textLength="9.6" lengthAdjust="spacingAndGlyphs">L</text><path d="M15.6,-13.3 V-7.7 M13.2,-11.9 L18.0,-9.1 M13.2,-9.1 L18.0,-11.9" stroke="#000" stroke-width="0.9" fill="none"/><text x="10.2" y="3.2" font-size="10" font-style="italic">p</text><text x="27.6" y="0" font-size="14.5" textLength="33.2" lengthAdjust="spacingAndGlyphs">(μm)</text></g>
<rect x="493.6" y="6.9" width="189.90" height="138.60" fill="none" stroke="#6a6a6a" stroke-width="1.0"/>
<text x="217.40" y="204.50" font-size="14.8" text-anchor="start" font-weight="bold" fill="#000" stroke="#000" stroke-width="0.3">e</text>
<path d="M263.30,228.40 L295.00,228.40 A31.7,31.7 0 0 0 233.15,218.60 Z" fill="#440154"/>
<path d="M263.30,228.40 L233.15,218.60 A31.7,31.7 0 0 0 275.53,257.64 Z" fill="#21918c"/>
<path d="M263.30,228.40 L275.53,257.64 A31.7,31.7 0 0 0 295.00,228.40 Z" fill="#fde725"/>
<text x="263.30" y="278.90" font-size="11.3" text-anchor="middle" font-weight="normal" fill="#000" textLength="27" lengthAdjust="spacingAndGlyphs" >CTRL</text>
<path d="M358.60,228.40 L390.30,228.40 A31.7,31.7 0 1 0 328.13,237.14 Z" fill="#440154"/>
<path d="M358.60,228.40 L328.13,237.14 A31.7,31.7 0 0 0 388.64,238.51 Z" fill="#21918c"/>
<path d="M358.60,228.40 L388.64,238.51 A31.7,31.7 0 0 0 390.30,228.40 Z" fill="#fde725"/>
<text x="358.60" y="278.90" font-size="11.3" text-anchor="middle" font-weight="normal" fill="#000" textLength="23.5" lengthAdjust="spacingAndGlyphs" >NOC</text>
<path d="M453.80,228.40 L485.50,228.40 A31.7,31.7 0 1 0 422.79,234.99 Z" fill="#440154"/>
<path d="M453.80,228.40 L422.79,234.99 A31.7,31.7 0 0 0 476.49,250.54 Z" fill="#21918c"/>
<path d="M453.80,228.40 L476.49,250.54 A31.7,31.7 0 0 0 485.50,228.40 Z" fill="#fde725"/>
<text x="453.80" y="278.90" font-size="11.3" text-anchor="middle" font-weight="normal" fill="#000" textLength="19" lengthAdjust="spacingAndGlyphs" >LAT</text>
<path d="M548.90,228.40 L580.60,228.40 A31.7,31.7 0 1 0 521.64,244.58 Z" fill="#440154"/>
<path d="M548.90,228.40 L521.64,244.58 A31.7,31.7 0 0 0 577.90,241.19 Z" fill="#21918c"/>
<path d="M548.90,228.40 L577.90,241.19 A31.7,31.7 0 0 0 580.60,228.40 Z" fill="#fde725"/>
<text x="536.00" y="278.90" font-size="11.3" text-anchor="start" font-weight="normal" fill="#000" textLength="19.5" lengthAdjust="spacingAndGlyphs" >VIM</text>
<line x1="557.0" y1="272.8" x2="561.8" y2="272.8" stroke="#111" stroke-width="0.9"/>
<path d="M644.40,228.40 L676.10,228.40 A31.7,31.7 0 1 0 638.57,259.56 Z" fill="#440154"/>
<path d="M644.40,228.40 L638.57,259.56 A31.7,31.7 0 0 0 675.51,234.50 Z" fill="#21918c"/>
<path d="M644.40,228.40 L675.51,234.50 A31.7,31.7 0 0 0 676.10,228.40 Z" fill="#fde725"/>
<text x="644.40" y="278.90" font-size="11.3" text-anchor="middle" font-weight="normal" fill="#000" textLength="24.8" lengthAdjust="spacingAndGlyphs" >VINB</text>
</svg></body></html>
